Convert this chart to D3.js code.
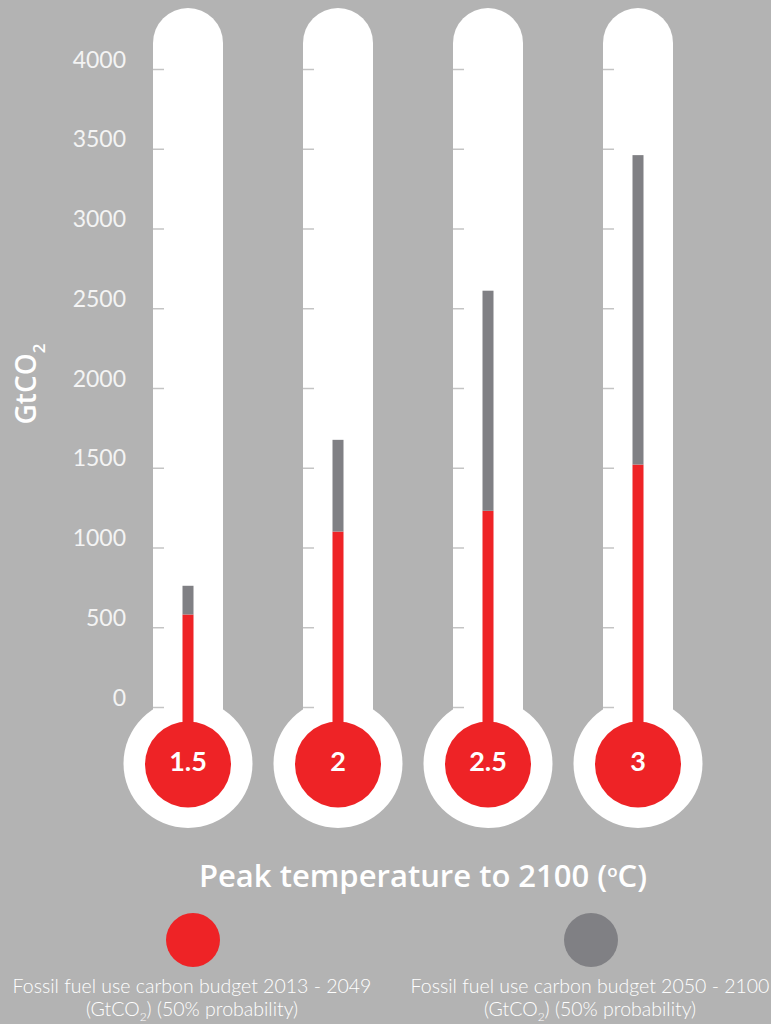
<!DOCTYPE html>
<html>
<head>
<meta charset="utf-8">
<script src="https://d3js.org/d3.v7.min.js"></script>
<style>
  html, body { margin: 0; padding: 0; background: #b3b3b3; }
  svg { display: block; }
</style>
</head>
<body>
<div id="chart"></div>
<script>
// peak temperature categories and the two carbon budgets (GtCO2)
const temps = ["1.5", "2", "2.5", "3"]
const budgetEarly = [580, 1100, 1230, 1520]   // 2013 - 2049
const budgetLate = [180, 575, 1380, 1940]     // 2050 - 2100
const yTicks = [0, 500, 1000, 1500, 2000, 2500, 3000, 3500, 4000]
const legendLabels = [
  ["Fossil fuel use carbon budget 2013 - 2049", "(GtCO", "2", ") (50% probability)"],
  ["Fossil fuel use carbon budget 2050 - 2100", "(GtCO", "2", ") (50% probability)"]
]

const WIDTH = 771
const HEIGHT = 1024
const RED = "#ee2326"
const GREY = "#808084"
const BG = "#b3b3b3"
const FONT = "Lato, 'Open Sans', sans-serif"
const TITLE_FONT = "'Open Sans', Lato, sans-serif"

const svg = d3.select("#chart").append("svg")
  .attr("width", WIDTH)
  .attr("height", HEIGHT)
  .style("background", BG)

// scales
const x = d3.scaleBand().domain(temps).range([113, 713]).padding(0)
const cx = t => x(t) + x.bandwidth() / 2
const y = d3.scaleLinear().domain([0, 4000]).range([707, 69])

const TUBE_W = 70
const TUBE_TOP = 8
const BULB_Y = 763.5
const BULB_R = 64.5
const INNER_R = 43
const STEM_W = 11

// stacked data
const stacked = d3.stack().keys(["early", "late"])(
  temps.map((t, i) => ({ temp: t, early: budgetEarly[i], late: budgetLate[i] }))
)

const thermo = svg.selectAll("g.thermo")
  .data(temps)
  .join("g")
  .attr("class", "thermo")

// tube and bulb (white)
thermo.append("rect")
  .attr("x", d => cx(d) - TUBE_W / 2)
  .attr("y", TUBE_TOP)
  .attr("width", TUBE_W)
  .attr("height", BULB_Y - TUBE_TOP)
  .attr("rx", TUBE_W / 2)
  .attr("ry", TUBE_W / 2)
  .style("fill", "#fff")
thermo.append("circle")
  .attr("cx", d => cx(d))
  .attr("cy", BULB_Y)
  .attr("r", BULB_R)
  .style("fill", "#fff")

// tick marks on every tube
temps.forEach(t => {
  const g = svg.append("g")
    .attr("transform", `translate(${cx(t) - TUBE_W / 2},0)`)
    .call(d3.axisRight(y).tickValues(yTicks).tickSize(11).tickFormat(""))
  g.select(".domain").remove()
  g.selectAll(".tick line").style("stroke", "#c4c4c4").style("stroke-width", 1.5)
})

// tick labels
const yAxis = svg.append("g")
  .attr("transform", "translate(126,0)")
  .call(d3.axisLeft(y).tickValues(yTicks).tickSize(0).tickPadding(0).tickFormat(d3.format("d")))
yAxis.select(".domain").remove()
yAxis.selectAll(".tick text")
  .attr("dy", "-2")
  .style("font-family", FONT)
  .style("font-weight", 400)
  .style("font-size", "23px")
  .style("fill", "#f4f4f4")

// stems: red (early) then grey (late) on top
const colors = [RED, GREY]
stacked.forEach((layer, li) => {
  svg.append("g").selectAll("rect")
    .data(layer)
    .join("rect")
    .attr("x", d => cx(d.data.temp) - STEM_W / 2)
    .attr("y", d => y(d[1]))
    .attr("width", STEM_W)
    .attr("height", d => (li === 0 ? BULB_Y : y(d[0])) - y(d[1]))
    .style("fill", colors[li])
})

// inner red bulb and label, above the stems
const bulbs = svg.selectAll("g.bulb")
  .data(temps)
  .join("g")
  .attr("class", "bulb")
bulbs.append("circle")
  .attr("cx", d => cx(d))
  .attr("cy", BULB_Y + 1)
  .attr("r", INNER_R)
  .style("fill", RED)
bulbs.append("text")
  .attr("x", d => cx(d))
  .attr("y", 771)
  .attr("text-anchor", "middle")
  .style("font-family", FONT)
  .style("font-weight", 700)
  .style("font-size", "27px")
  .style("fill", "#fff")
  .text(d => d)

// y title
const yTitle = svg.append("text")
  .attr("transform", "translate(36,384) rotate(-90)")
  .attr("text-anchor", "middle")
  .style("font-family", TITLE_FONT)
  .style("font-weight", 600)
  .style("font-size", "28px")
  .style("fill", "#fff")
yTitle.append("tspan").text("GtCO")
yTitle.append("tspan").attr("dy", 9).style("font-size", "17px").text("2")

// x title
const xTitle = svg.append("text")
  .attr("x", 423)
  .attr("y", 887)
  .attr("text-anchor", "middle")
  .style("font-family", TITLE_FONT)
  .style("font-weight", 600)
  .style("font-size", "31px")
  .style("fill", "#fff")
xTitle.append("tspan").text("Peak temperature to 2100 (")
xTitle.append("tspan").attr("dy", -10).style("font-size", "17px").text("o")
xTitle.append("tspan").attr("dy", 10).text("C)")

// legend
const legendX = [192, 590]
legendLabels.forEach((lab, i) => {
  const g = svg.append("g")
  g.append("circle")
    .attr("cx", legendX[i] + 1)
    .attr("cy", 940)
    .attr("r", 27)
    .style("fill", colors[i])
  g.append("text")
    .attr("x", legendX[i])
    .attr("y", 993)
    .attr("text-anchor", "middle")
    .style("font-family", FONT)
    .style("font-weight", 300)
    .style("font-size", "19.5px")
    .style("fill", "#fff")
    .text(lab[0])
  const t2 = g.append("text")
    .attr("x", legendX[i])
    .attr("y", 1016)
    .attr("text-anchor", "middle")
    .style("font-family", FONT)
    .style("font-weight", 300)
    .style("font-size", "19.5px")
    .style("fill", "#fff")
  t2.append("tspan").text(lab[1])
  t2.append("tspan").attr("dy", 5).style("font-size", "12px").text(lab[2])
  t2.append("tspan").attr("dy", -5).text(lab[3])
})
</script>
</body>
</html>
